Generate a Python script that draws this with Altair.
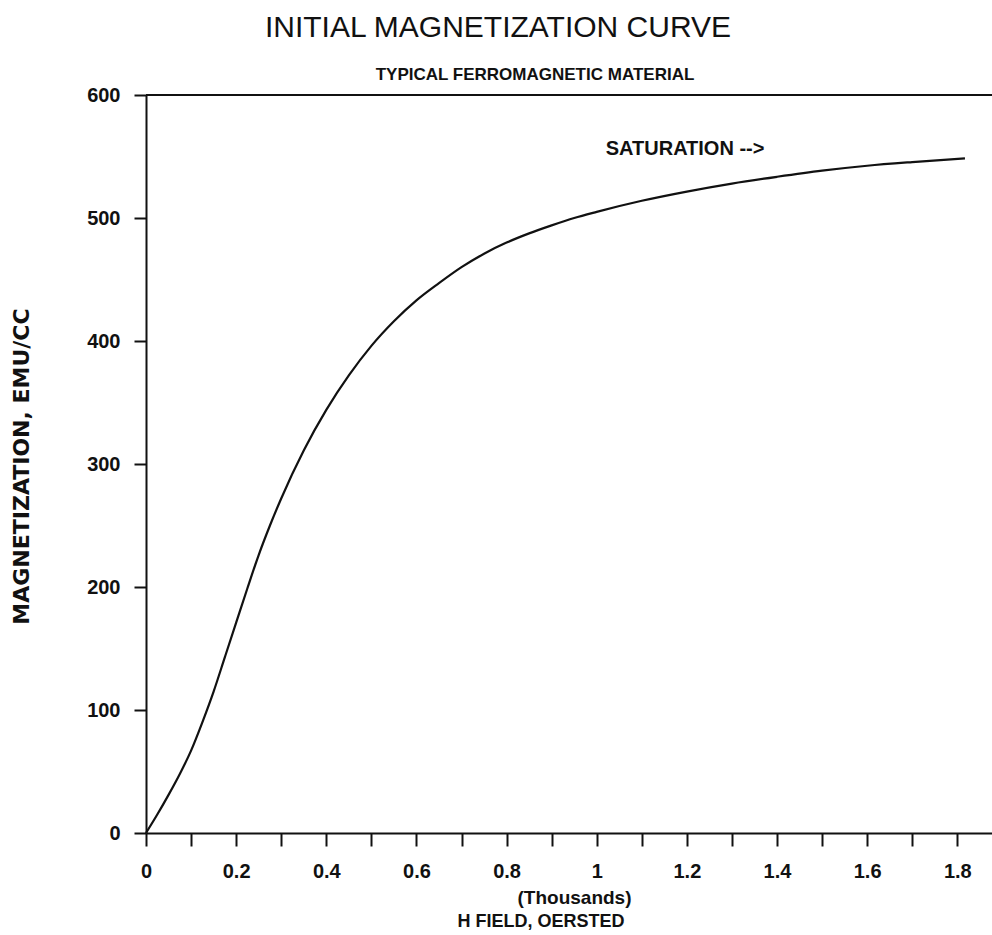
import altair as alt
import pandas as pd

# ---- data ----
h_field = [0, 0.025, 0.05, 0.075, 0.1, 0.125, 0.15, 0.175, 0.2, 0.225, 0.25, 0.275,
           0.3, 0.35, 0.4, 0.45, 0.5, 0.55, 0.6, 0.65, 0.7, 0.75, 0.8, 0.85, 0.9,
           0.95, 1.0, 1.1, 1.2, 1.3, 1.4, 1.5, 1.6, 1.7, 1.817]
magnetization = [0, 15, 31, 48, 67, 90, 115, 143, 171, 199, 226, 250,
                 272, 311, 344, 372, 396, 416, 433, 447, 460, 471, 480, 487.5, 494,
                 500, 505, 514, 521.5, 528, 533.5, 538.5, 542.5, 545.5, 548.5]

x_ticks = [0.0, 0.1, 0.2, 0.3, 0.4, 0.5, 0.6, 0.7, 0.8, 0.9, 1.0,
           1.1, 1.2, 1.3, 1.4, 1.5, 1.6, 1.7, 1.8]
y_ticks = [0, 100, 200, 300, 400, 500, 600]
x_domain = [0, 1.877]
y_domain = [0, 600]

ann_x = [1.02]
ann_y = [551]
ann_text = ["SATURATION -->"]

title_text = ["INITIAL MAGNETIZATION CURVE"]
subtitle_text = ["TYPICAL FERROMAGNETIC MATERIAL"]
x_title_unit = "(Thousands)"
x_title_text = ["H FIELD,  OERSTED"]
y_title_text = "MAGNETIZATION, EMU/CC"

INK = "#111111"
FONT = "Liberation Sans"
W, H = 846, 738

curve_df = pd.DataFrame({"h": h_field, "m": magnetization})
top_df = pd.DataFrame({"m": [600]})
ann_df = pd.DataFrame({"h": ann_x, "m": ann_y, "t": ann_text})
title_df = pd.DataFrame({"t": title_text})
sub_df = pd.DataFrame({"t": subtitle_text})
xt_df = pd.DataFrame({"t": x_title_text})

xs = alt.Scale(domain=x_domain, nice=False, zero=False)
ys = alt.Scale(domain=y_domain, nice=False, zero=False)

x_axis = alt.Axis(
    values=x_ticks, format="~g",
    labelExpr="round(datum.value * 10) % 2 == 0 ? datum.label : ''",
    labelFlush=False, labelOverlap=False, grid=False,
    tickSize=13, tickWidth=2, tickColor=INK, domainWidth=2, domainColor=INK,
    labelPadding=15, labelFont=FONT, labelFontSize=20, labelFontWeight="bold",
    labelColor=INK,
    title=x_title_unit, titleX=428, titleY=70, titleAlign="center",
    titleBaseline="alphabetic", titleFont=FONT, titleFontSize=19,
    titleFontWeight="bold", titleColor=INK,
)
y_axis = alt.Axis(
    values=y_ticks, grid=False, labelOverlap=False, labelFlush=False,
    tickSize=12, tickWidth=2, tickColor=INK, domainWidth=2, domainColor=INK,
    labelPadding=14, labelFont=FONT, labelFontSize=20, labelFontWeight="bold",
    labelColor=INK,
    title=y_title_text, titleAngle=270, titleX=-118, titleY=371,
    titleAlign="center", titleBaseline="alphabetic", titleFont="DejaVu Sans",
    titleFontSize=22, titleFontWeight="bold", titleColor=INK,
)

curve = alt.Chart(curve_df).mark_line(
    color=INK, strokeWidth=2.2, interpolate="monotone"
).encode(
    x=alt.X("h:Q", scale=xs, axis=x_axis),
    y=alt.Y("m:Q", scale=ys, axis=y_axis),
)

top_line = alt.Chart(top_df).mark_rule(color=INK, strokeWidth=2).encode(
    y=alt.Y("m:Q", scale=ys)
)

saturation = alt.Chart(ann_df).mark_text(
    align="left", baseline="alphabetic", font=FONT, fontSize=20,
    fontWeight="bold", color=INK
).encode(x=alt.X("h:Q", scale=xs), y=alt.Y("m:Q", scale=ys), text="t:N")

title = alt.Chart(title_df).mark_text(
    align="center", baseline="alphabetic", font=FONT, fontSize=30,
    fontWeight="normal", color=INK
).encode(x=alt.value(352), y=alt.value(-58), text="t:N")

subtitle = alt.Chart(sub_df).mark_text(
    align="center", baseline="alphabetic", font=FONT, fontSize=17,
    fontWeight="bold", color=INK
).encode(x=alt.value(389), y=alt.value(-15), text="t:N")

x_title = alt.Chart(xt_df).mark_text(
    align="center", baseline="alphabetic", font=FONT, fontSize=18,
    fontWeight="bold", color=INK
).encode(x=alt.value(395), y=alt.value(832), text="t:N")

chart = alt.layer(curve, top_line, saturation, title, subtitle, x_title).properties(
    width=W, height=H,
    autosize=alt.AutoSizeParams(type="none"),
    padding={"left": 146, "top": 95, "right": 0, "bottom": 102},
    background="white",
).configure_view(stroke=None)

chart.save("out.html", embed_options={"renderer": "svg", "actions": False})
